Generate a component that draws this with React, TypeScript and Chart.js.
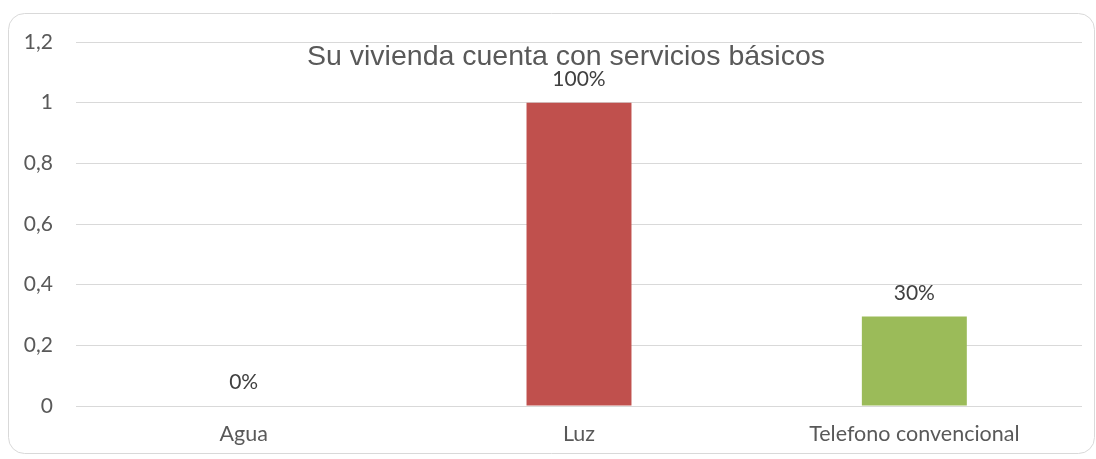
import React, { useEffect, useRef } from "react";
import { Chart, registerables } from "chart.js";

Chart.register(...registerables);

const categories = ["Agua", "Luz", "Telefono convencional"];
const values = [0, 1, 0.295];
const valueLabels = ["0%", "100%", "30%"];
const barColors = ["#4F81BD", "#C0504D", "#9BBB59"];
const yTicks = [0, 0.2, 0.4, 0.6, 0.8, 1, 1.2];
const titleText = "Su vivienda cuenta con servicios básicos";

const frameAndTitle = {
  id: "frameAndTitle",
  beforeDraw(chart: any) {
    const ctx = chart.ctx;
    ctx.save();
    ctx.fillStyle = "#ffffff";
    ctx.fillRect(0, 0, chart.width, chart.height);
    ctx.beginPath();
    (ctx as any).roundRect(8.5, 13.5, 1086, 440, 16);
    ctx.strokeStyle = "#D9D9D9";
    ctx.lineWidth = 1;
    ctx.stroke();
    ctx.restore();
  },
  afterDatasetsDraw(chart: any) {
    const ctx = chart.ctx;
    const meta = chart.getDatasetMeta(0);
    ctx.save();
    ctx.font = "21px Lato";
    ctx.fillStyle = "#404040";
    ctx.textAlign = "center";
    ctx.textBaseline = "alphabetic";
    meta.data.forEach((bar: any, i: number) => {
      ctx.fillText(valueLabels[i], bar.x, bar.y - 17);
    });
    ctx.font = "28.5px 'Liberation Sans', Arial";
    ctx.fillStyle = "#595959";
    ctx.fillText(titleText, 566, 65);
    ctx.restore();
  },
};

export default function App() {
  const ref = useRef<HTMLCanvasElement | null>(null);
  useEffect(() => {
    if (!ref.current) return;
    const chart = new Chart(ref.current, {
      type: "bar",
      data: {
        labels: categories,
        datasets: [
          {
            data: values,
            backgroundColor: barColors,
            barPercentage: 1,
            categoryPercentage: 0.313,
          },
        ],
      },
      options: {
        animation: false,
        responsive: false,
        layout: { padding: { left: 0, right: 14, top: 42, bottom: 0 } },
        plugins: {
          legend: { display: false },
          title: { display: false },
          tooltip: { enabled: false },
        },
        scales: {
          x: {
            grid: { display: false, drawTicks: false },
            border: { display: false },
            ticks: {
              color: "#595959",
              font: { family: "Lato", size: 21.5 },
              padding: 15,
            },
            afterFit(scale: any) {
              scale.height = 53;
            },
          },
          y: {
            min: 0,
            max: 1.2,
            afterBuildTicks(scale: any) {
              scale.ticks = yTicks.map((v) => ({ value: v }));
            },
            grid: { color: "#D9D9D9", lineWidth: 1, drawTicks: false },
            border: { display: false },
            ticks: {
              color: "#595959",
              font: { family: "Lato", size: 21 },
              padding: 23,
              callback: (v: any) => String(Math.round(Number(v) * 10) / 10).replace(".", ","),
            },
            afterFit(scale: any) {
              scale.width = 76;
            },
          },
        },
      },
      plugins: [frameAndTitle],
    });
    return () => chart.destroy();
  }, []);
  return (
    <div style={{ position: "fixed", left: 0, top: 0, width: 1096, height: 459 }}>
      <canvas ref={ref} width={1096} height={459} style={{ display: "block" }} />
    </div>
  );
}
